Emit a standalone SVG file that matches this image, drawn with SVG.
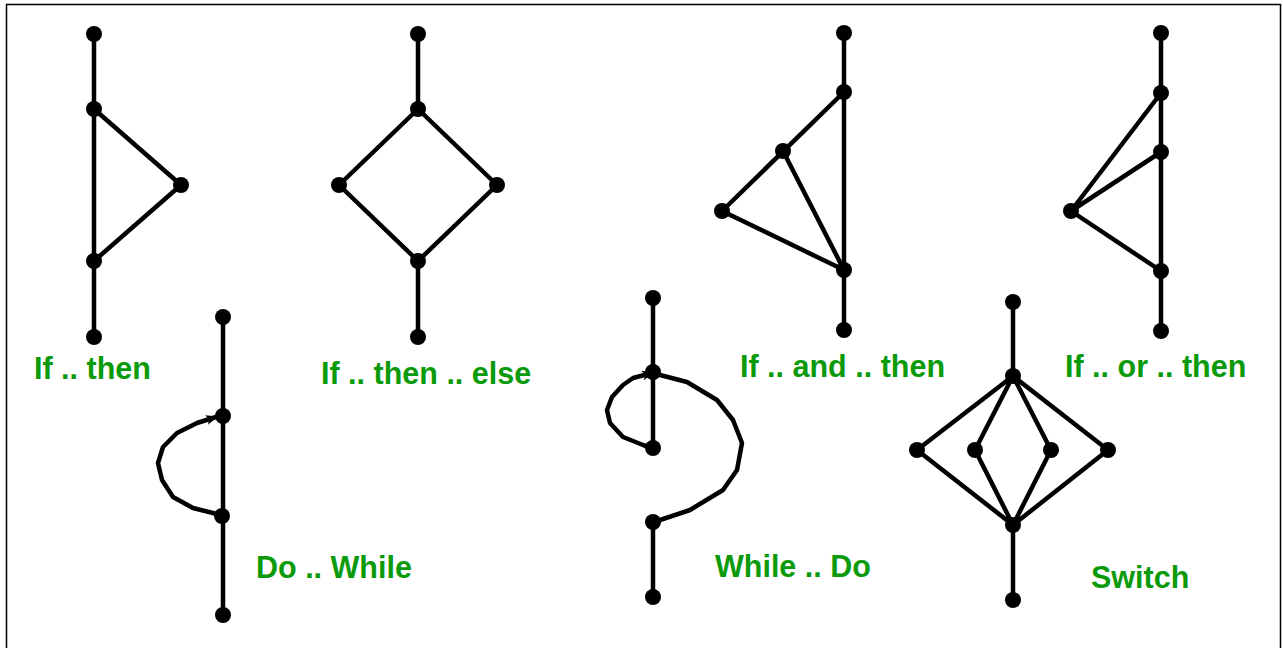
<svg xmlns="http://www.w3.org/2000/svg" width="1283" height="648" viewBox="0 0 1283 648">
<style>
.e{stroke:#000;stroke-width:4.5;fill:none;stroke-linejoin:round;stroke-linecap:round}
.n{fill:#000}
.t{font-family:"Liberation Sans",Arial,sans-serif;font-weight:bold;font-size:30.5px;fill:#0a9a0a}
</style>
<defs>
<marker id="ah" markerWidth="12" markerHeight="10" refX="10" refY="5" orient="auto" markerUnits="userSpaceOnUse">
<path d="M0,0 L12,5 L0,10 L3,5 Z" fill="#000"/>
</marker>
</defs>
<rect x="6.5" y="4.5" width="1274" height="660" fill="#fff" stroke="#000" stroke-width="1.5"/>
<g id="connectors">
<path class="e" d="M94,34 V337 M94,109 L181,185 L94,261"/>
<path class="e" d="M418,34 V109 L339,185 L418,261 L497,185 L418,109 M418,261 V337"/>
<path class="e" d="M844,33 V330 M844,92 L722,211 L844,270 M783,151 L844,270"/>
<path class="e" d="M1161,33 V331 M1161,93 L1071,211 L1161,271 M1161,152 L1071,211"/>
<path class="e" d="M223,317 V615"/>
<path class="e" marker-end="url(#ah)" d="M222,516 L213,513 L193,508 L173,497 L162,480 L158,463 L163,447 L177,433 L197,423 L216,417"/>
<path class="e" d="M653,298 V448 M653,522 V597"/>
<path class="e" marker-end="url(#ah)" d="M653,448 L643,445 L623,437 L610,423 L607,410 L612,397 L623,385 L633,378 L652,373"/>
<path class="e" d="M653,372 L660,375 L687,382 L717,400 L733,420 L742,443 L737,470 L723,490 L690,510 L660,520 L653,522"/>
<path class="e" d="M1013,302 V376 M1013,525 V600 M1013,376 L917,450 L1013,525 L975,450 L1013,376 L1051,450 L1013,525 L1108,450 L1013,376"/>
</g>
<g id="nodes" class="n">
<g id="n-ifthen"><circle cx="94" cy="34" r="8"/><circle cx="94" cy="109" r="8"/><circle cx="181" cy="185" r="8"/><circle cx="94" cy="261" r="8"/><circle cx="94" cy="337" r="8"/></g>
<g id="n-ifthenelse"><circle cx="418" cy="34" r="8"/><circle cx="418" cy="109" r="8"/><circle cx="339" cy="185" r="8"/><circle cx="497" cy="185" r="8"/><circle cx="418" cy="261" r="8"/><circle cx="418" cy="337" r="8"/></g>
<g id="n-ifandthen"><circle cx="844" cy="33" r="8"/><circle cx="844" cy="92" r="8"/><circle cx="783" cy="151" r="8"/><circle cx="722" cy="211" r="8"/><circle cx="844" cy="270" r="8"/><circle cx="844" cy="330" r="8"/></g>
<g id="n-iforthen"><circle cx="1161" cy="33" r="8"/><circle cx="1161" cy="93" r="8"/><circle cx="1161" cy="152" r="8"/><circle cx="1071" cy="211" r="8"/><circle cx="1161" cy="271" r="8"/><circle cx="1161" cy="331" r="8"/></g>
<g id="n-dowhile"><circle cx="223" cy="317" r="8"/><circle cx="223" cy="416" r="8"/><circle cx="222" cy="516" r="8"/><circle cx="223" cy="615" r="8"/></g>
<g id="n-whiledo"><circle cx="653" cy="298" r="8"/><circle cx="653" cy="372" r="8"/><circle cx="653" cy="448" r="8"/><circle cx="653" cy="522" r="8"/><circle cx="653" cy="597" r="8"/></g>
<g id="n-switch"><circle cx="1013" cy="302" r="8"/><circle cx="1013" cy="376" r="8"/><circle cx="917" cy="450" r="8"/><circle cx="975" cy="450" r="8"/><circle cx="1051" cy="450" r="8"/><circle cx="1108" cy="450" r="8"/><circle cx="1013" cy="525" r="8"/><circle cx="1013" cy="600" r="8"/></g>
</g>
<g id="labels">
<text class="t" x="34" y="379">If .. then</text>
<text class="t" x="321" y="384">If .. then .. else</text>
<text class="t" x="740" y="377">If .. and .. then</text>
<text class="t" x="1065" y="377">If .. or .. then</text>
<text class="t" x="256" y="578">Do .. While</text>
<text class="t" x="715" y="577">While .. Do</text>
<text class="t" x="1091" y="588">Switch</text>
</g>
</svg>
